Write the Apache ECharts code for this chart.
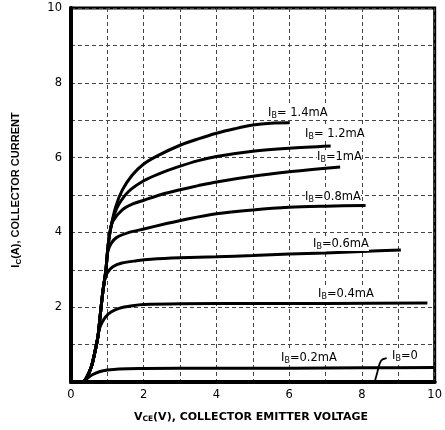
<!DOCTYPE html>
<html><head><meta charset="utf-8">
<script src="https://cdn.jsdelivr.net/npm/echarts@6/dist/echarts.min.js"></script>
<style>html,body{margin:0;padding:0;background:#fff}#c{width:445px;height:430px}</style>
</head><body><div id="c"></div>
<script>
// ---- data ----
const xTickLabels = [0, 2, 4, 6, 8, 10];
const yTickLabels = [2, 4, 6, 8, 10];
const curveNames = ['IB=1.4mA', 'IB=1.2mA', 'IB=1mA', 'IB=0.8mA', 'IB=0.6mA', 'IB=0.4mA', 'IB=0.2mA', 'IB=0'];
const ib14 = [[0.33,0],[0.42,0.1],[0.56,0.41],[0.65,0.77],[0.74,1.21],[0.8,1.75],[0.87,2.37],[0.96,3.0],[1.02,3.65],[1.1,4.15],[1.23,4.69],[1.41,5.13],[1.68,5.53],[2.0,5.83],[2.4,6.06],[3.0,6.33],[3.5,6.5],[4.0,6.65],[4.5,6.77],[5.0,6.87],[5.5,6.92],[6.0,6.93]];
const ib12 = [[0.33,0],[0.42,0.1],[0.56,0.41],[0.65,0.77],[0.74,1.21],[0.8,1.75],[0.87,2.37],[0.96,3.0],[1.02,3.65],[1.1,4.15],[1.19,4.48],[1.32,4.76],[1.59,5.1],[2.0,5.38],[2.4,5.56],[3.0,5.77],[3.5,5.92],[4.0,6.03],[5.0,6.17],[6.0,6.25],[7.14,6.31]];
const ib10 = [[0.33,0],[0.42,0.1],[0.56,0.41],[0.65,0.77],[0.74,1.21],[0.8,1.75],[0.87,2.37],[0.96,3.0],[1.02,3.65],[1.07,4.02],[1.15,4.3],[1.41,4.6],[1.7,4.76],[2.0,4.86],[2.5,5.02],[3.0,5.14],[3.5,5.25],[4.0,5.35],[5.0,5.5],[6.0,5.62],[6.7,5.69],[7.4,5.75]];
const ib08 = [[0.33,0],[0.42,0.1],[0.56,0.41],[0.65,0.77],[0.74,1.21],[0.8,1.75],[0.87,2.37],[0.96,3.0],[1.01,3.48],[1.1,3.7],[1.25,3.86],[1.6,4.0],[2.0,4.09],[2.6,4.23],[3.2,4.36],[4.0,4.5],[5.0,4.6],[6.0,4.67],[7.0,4.7],[8.1,4.72]];
const ib06 = [[0.33,0],[0.42,0.1],[0.56,0.41],[0.65,0.77],[0.74,1.21],[0.8,1.75],[0.87,2.37],[0.92,2.7],[1.0,2.92],[1.15,3.08],[1.4,3.18],[1.8,3.24],[2.2,3.28],[3.0,3.32],[4.0,3.35],[5.0,3.38],[6.0,3.42],[7.0,3.45],[8.0,3.49],[9.07,3.53]];
const ib04 = [[0.33,0],[0.42,0.1],[0.56,0.41],[0.65,0.77],[0.74,1.21],[0.78,1.42],[0.86,1.6],[0.96,1.75],[1.1,1.87],[1.32,1.97],[1.7,2.04],[2.0,2.07],[3.0,2.09],[5.0,2.1],[7.0,2.1],[9.8,2.11]];
const ib02 = [[0.33,0],[0.45,0.1],[0.6,0.2],[0.8,0.28],[1.0,0.32],[1.32,0.35],[2.0,0.36],[4.0,0.37],[6.0,0.37],[8.0,0.38],[10,0.39]];
const ib00 = [[8.35,0],[8.42,0.25],[8.49,0.5],[8.56,0.6],[8.68,0.64]];
const curves = [ib14, ib12, ib10, ib08, ib06, ib04, ib02, ib00];

// ---- styling / layout ----
const F = "'DejaVu Sans', 'Liberation Sans', Arial, sans-serif";
const FL = "'Liberation Sans', Arial, sans-serif";
const richLbl = {
  n: {fontFamily: F, fontSize: 11.5, color: '#000', lineHeight: 14},
  s: {fontFamily: F, fontSize: 8, color: '#000', lineHeight: 8, verticalAlign: 'bottom'}
};
const richX = {
  b: {fontFamily: F, fontSize: 11, fontWeight: 'bold', color: '#000', lineHeight: 13},
  s: {fontFamily: F, fontSize: 7.5, fontWeight: 'bold', color: '#000', lineHeight: 7, verticalAlign: 'bottom'}
};
const richY = {
  b: {fontFamily: FL, fontSize: 11, fontWeight: 'bold', color: '#000', lineHeight: 13},
  s: {fontFamily: FL, fontSize: 8, fontWeight: 'bold', color: '#000', lineHeight: 7, verticalAlign: 'bottom'}
};
function ibText(suffix) { return '{n|I}{s|B}{n|' + suffix + '}'; }
const curveLabels = [
  {t: ibText('= 1.4mA'), x: 268, y: 113},
  {t: ibText('= 1.2mA'), x: 305, y: 134},
  {t: ibText('=1mA'), x: 317, y: 157},
  {t: ibText('=0.8mA'), x: 305, y: 197},
  {t: ibText('=0.6mA'), x: 313, y: 244},
  {t: ibText('=0.4mA'), x: 318, y: 294},
  {t: ibText('=0.2mA'), x: 281, y: 358},
  {t: ibText('=0'), x: 392, y: 356}
];

const chart = echarts.init(document.getElementById('c'), null, {renderer: 'canvas'});
const gridLine = {lineStyle: {color: '#444', width: 1, type: [4, 3]}};
const option = {
  animation: false,
  backgroundColor: '#fff',
  grid: {left: 71, top: 8, width: 370, height: 374, show: true, borderColor: '#000', borderWidth: 3},
  xAxis: {
    type: 'value', min: 0, max: 10, interval: 1,
    axisLine: {lineStyle: {color: '#000', width: 4}},
    axisTick: {show: false},
    axisLabel: {fontFamily: F, fontSize: 11.5, color: '#000', margin: 7,
      formatter: v => xTickLabels.indexOf(v) >= 0 ? String(v) : ''},
    splitLine: gridLine
  },
  yAxis: {
    type: 'value', min: 0, max: 10, interval: 1,
    axisLine: {lineStyle: {color: '#000', width: 4}},
    axisTick: {show: false},
    axisLabel: {fontFamily: F, fontSize: 11.5, color: '#000', margin: 9,
      formatter: v => yTickLabels.indexOf(v) >= 0 ? String(v) : ''},
    splitLine: gridLine
  },
  series: curves.map((d, i) => ({
    name: curveNames[i], type: 'line', data: d, showSymbol: false,
    smooth: 0.3,
    lineStyle: {color: '#000', width: i === 7 ? 1.8 : 3},
    z: 5
  })),
  graphic: curveLabels.map(l => ({
    type: 'text', x: l.x, y: l.y, z: 10,
    style: {text: l.t, rich: richLbl, verticalAlign: 'middle', align: 'left', backgroundColor: '#fff'}
  })).concat([
    {type: 'text', x: 251, y: 417, z: 10,
     style: {text: '{b|V}{s|CE}{b|(V), COLLECTOR EMITTER VOLTAGE}', rich: richX, align: 'center', verticalAlign: 'middle'}},
    {type: 'text', x: 16, y: 190, rotation: Math.PI / 2, z: 10,
     style: {text: '{b|I}{s|C}{b|(A), COLLECTOR CURRENT}', rich: richY, align: 'center', verticalAlign: 'middle'}}
  ])
};
chart.setOption(option);
</script>
</body></html>
